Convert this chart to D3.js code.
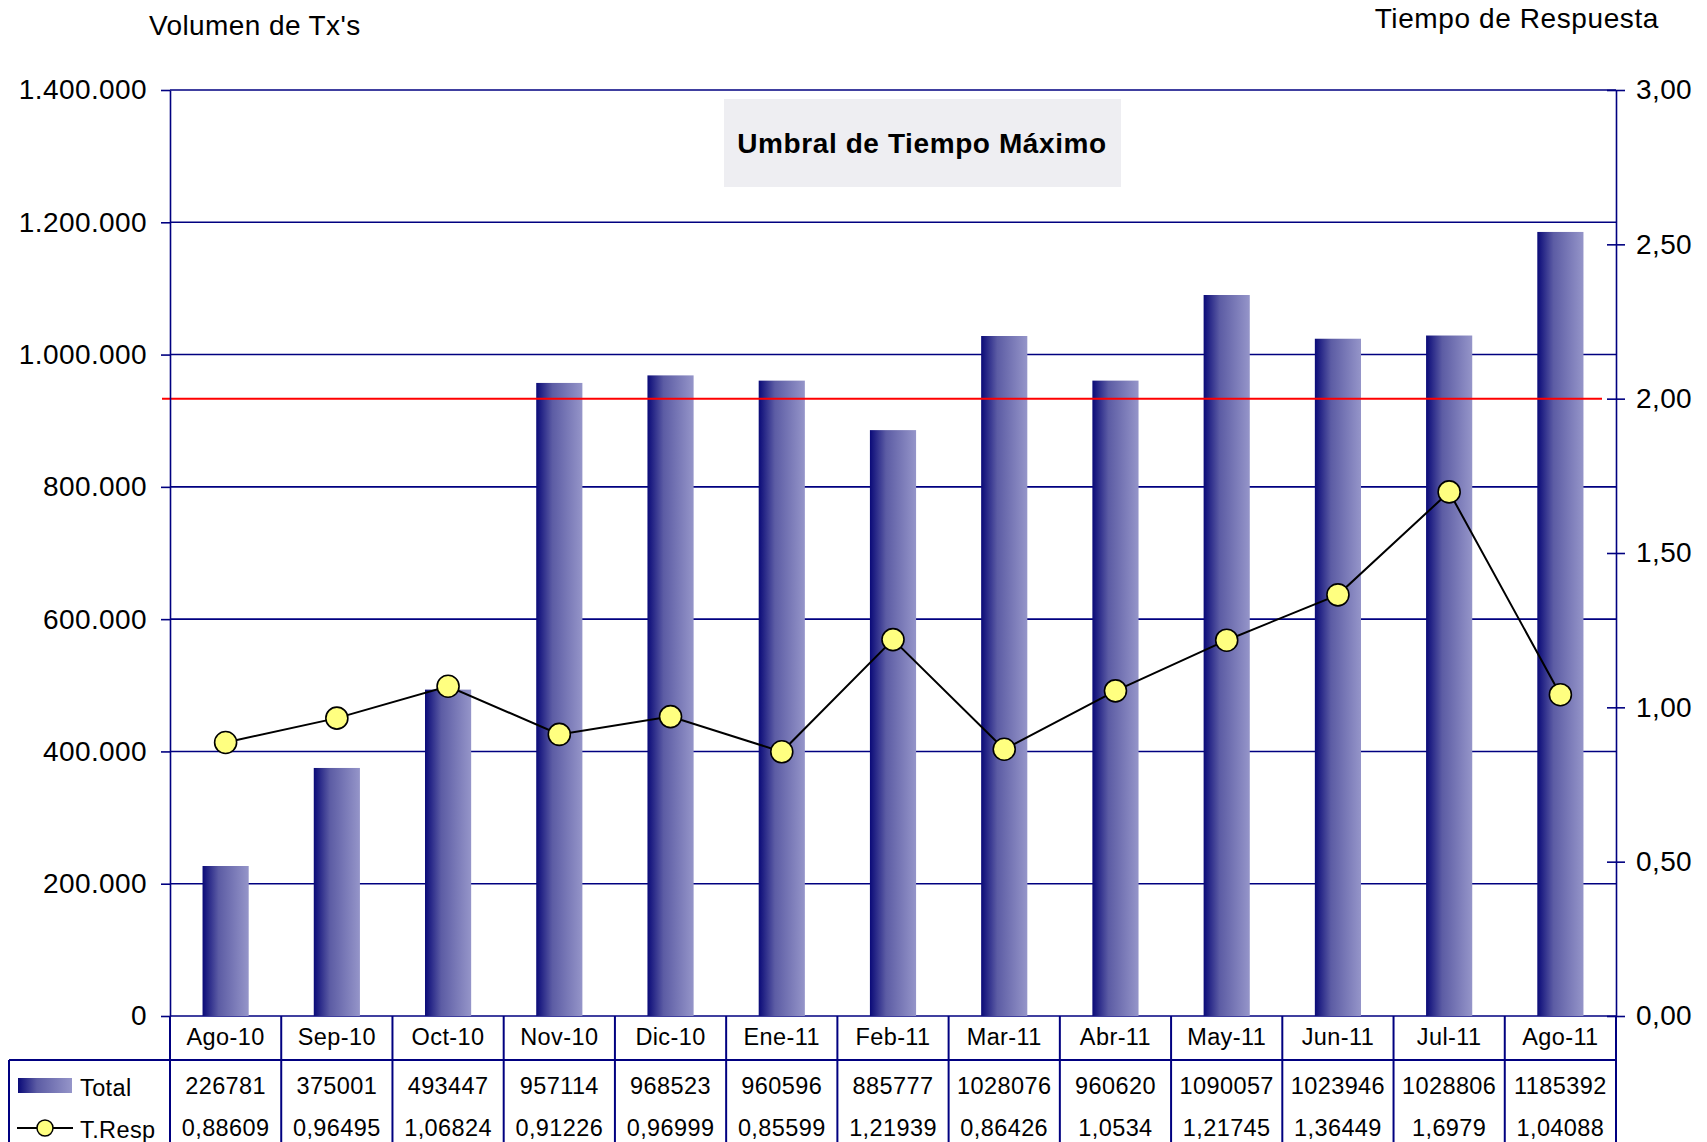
<!DOCTYPE html>
<html>
<head>
<meta charset="utf-8">
<script src="https://cdn.jsdelivr.net/npm/d3@7"></script>
<style>
  body { margin: 0; background: #fff; }
  text { font-family: "Liberation Sans", Arial, sans-serif; fill: #000; }
</style>
</head>
<body>
<div id="chart"></div>
<script>
const months = ["Ago-10","Sep-10","Oct-10","Nov-10","Dic-10","Ene-11","Feb-11","Mar-11","Abr-11","May-11","Jun-11","Jul-11","Ago-11"];
const total = [226781, 375001, 493447, 957114, 968523, 960596, 885777, 1028076, 960620, 1090057, 1023946, 1028806, 1185392];
const tresp = [0.88609, 0.96495, 1.06824, 0.91226, 0.96999, 0.85599, 1.21939, 0.86426, 1.0534, 1.21745, 1.36449, 1.6979, 1.04088];
const leftTicks = [0, 200000, 400000, 600000, 800000, 1000000, 1200000, 1400000];
const rightTicks = [0, 0.5, 1, 1.5, 2, 2.5, 3];
const threshold = 2.0;

const W = 1707, H = 1142;
const margin = {top: 90, left: 170, right: 91, bottom: 126};
const navy = "#000080";

const es = d3.formatLocale({decimal: ",", thousands: ".", grouping: [3], currency: ["", "€"]});

const svg = d3.select("#chart").append("svg")
  .attr("width", W).attr("height", H);

const defs = svg.append("defs");
const grad = defs.append("linearGradient").attr("id", "barGrad")
  .attr("x1", "0%").attr("x2", "100%").attr("y1", "0%").attr("y2", "0%");
grad.append("stop").attr("offset", "0%").attr("stop-color", "#0a0a78");
grad.append("stop").attr("offset", "35%").attr("stop-color", "#5c5ca4");
grad.append("stop").attr("offset", "100%").attr("stop-color", "#9595c9");

const x = d3.scaleBand()
  .domain(months)
  .range([margin.left, W - margin.right])
  .padding(0);

const yL = d3.scaleLinear().domain([0, 1400000]).range([H - margin.bottom, margin.top]);
const yR = d3.scaleLinear().domain([0, 3]).range([H - margin.bottom, margin.top]);

// gridlines
svg.append("g")
  .selectAll("line")
  .data(leftTicks)
  .join("line")
    .attr("x1", margin.left).attr("x2", W - margin.right)
    .attr("y1", d => yL(d)).attr("y2", d => yL(d))
    .attr("stroke", navy).attr("stroke-width", 1.6);

// title box
svg.append("rect")
  .attr("x", 724).attr("y", 99).attr("width", 397).attr("height", 88)
  .attr("fill", "#eeeef2");
svg.append("text")
  .attr("x", 922).attr("y", 153)
  .attr("text-anchor", "middle")
  .style("font-size", "28px").style("font-weight", "bold")
  .style("letter-spacing", "0.6px")
  .text("Umbral de Tiempo Máximo");

// bars
const barW = x.bandwidth() * 0.415;
svg.append("g")
  .selectAll("rect")
  .data(total)
  .join("rect")
    .attr("x", (d, i) => x(months[i]) + x.bandwidth() / 2 - barW / 2)
    .attr("y", d => yL(d))
    .attr("width", barW)
    .attr("height", d => yL(0) - yL(d))
    .attr("fill", "url(#barGrad)");

// threshold line
svg.append("line")
  .attr("x1", 162).attr("x2", 1602)
  .attr("y1", yR(threshold)).attr("y2", yR(threshold))
  .attr("stroke", "#ff0000").attr("stroke-width", 2);

// axes
const axL = svg.append("g")
  .attr("transform", `translate(${margin.left},0)`)
  .call(d3.axisLeft(yL).tickValues(leftTicks).tickFormat(es.format(",")).tickSize(9).tickPadding(14).tickSizeOuter(0));
axL.selectAll("text").style("font-size", "28px").style("letter-spacing", "0.4px");

const axR = svg.append("g")
  .attr("transform", `translate(${W - margin.right},0)`)
  .call(d3.axisRight(yR).tickValues(rightTicks).tickFormat(es.format(",.2f")).tickSize(9).tickPadding(11).tickSizeOuter(0));
axR.selectAll("text").style("font-size", "28px").style("letter-spacing", "0.4px");
axR.selectAll(".tick line").attr("x1", -9);

[axL, axR].forEach(a => {
  a.select(".domain").attr("stroke", navy).attr("stroke-width", 1.6);
  a.selectAll(".tick line").attr("stroke", navy).attr("stroke-width", 1.6);
  a.selectAll("text").style("fill", "#000");
});

// response-time line
const cx = (d, i) => x(months[i]) + x.bandwidth() / 2;
svg.append("path")
  .datum(tresp)
  .attr("fill", "none")
  .attr("stroke", "#000")
  .attr("stroke-width", 2)
  .attr("d", d3.line().x(cx).y(d => yR(d)));

svg.append("g")
  .selectAll("circle")
  .data(tresp)
  .join("circle")
    .attr("cx", cx)
    .attr("cy", d => yR(d))
    .attr("r", 11)
    .attr("fill", "#ffff80")
    .attr("stroke", "#000")
    .attr("stroke-width", 1.6);

// axis titles
svg.append("text").attr("x", 149).attr("y", 35)
  .style("font-size", "28px").style("letter-spacing", "0.4px").text("Volumen de Tx's");
svg.append("text").attr("x", 1659).attr("y", 28)
  .attr("text-anchor", "end")
  .style("font-size", "28px").style("letter-spacing", "0.6px").text("Tiempo de Respuesta");

// data table
const y0 = yL(0), rowTop = 1060;
const table = svg.append("g").style("font-size", "23.5px").style("letter-spacing", "0.4px");
table.append("line")
  .attr("x1", 9).attr("x2", W - margin.right)
  .attr("y1", rowTop).attr("y2", rowTop)
  .attr("stroke", navy).attr("stroke-width", 2);
table.append("line")
  .attr("x1", 9).attr("x2", 9)
  .attr("y1", rowTop).attr("y2", H)
  .attr("stroke", navy).attr("stroke-width", 2);
table.selectAll(".vline")
  .data(months.concat(["end"]))
  .join("line")
    .attr("class", "vline")
    .attr("x1", (d, i) => i < months.length ? x(d) : W - margin.right)
    .attr("x2", (d, i) => i < months.length ? x(d) : W - margin.right)
    .attr("y1", y0).attr("y2", H)
    .attr("stroke", navy).attr("stroke-width", 2);

table.selectAll(".cat")
  .data(months)
  .join("text")
    .attr("class", "cat")
    .attr("x", d => x(d) + x.bandwidth() / 2)
    .attr("y", 1045)
    .attr("text-anchor", "middle")
    .text(d => d);

table.selectAll(".tot")
  .data(total)
  .join("text")
    .attr("class", "tot")
    .attr("x", (d, i) => x(months[i]) + x.bandwidth() / 2)
    .attr("y", 1094)
    .attr("text-anchor", "middle")
    .text(d => String(d));

table.selectAll(".tr")
  .data(tresp)
  .join("text")
    .attr("class", "tr")
    .attr("x", (d, i) => x(months[i]) + x.bandwidth() / 2)
    .attr("y", 1136)
    .attr("text-anchor", "middle")
    .text(d => String(d).replace(".", ","));

// legend in the table
table.append("rect")
  .attr("x", 18).attr("y", 1078).attr("width", 54).attr("height", 15)
  .attr("fill", "url(#barGrad)");
table.append("text").attr("x", 80).attr("y", 1096)
  .text("Total");
table.append("line")
  .attr("x1", 17).attr("x2", 73).attr("y1", 1128).attr("y2", 1128)
  .attr("stroke", "#000").attr("stroke-width", 2);
table.append("circle")
  .attr("cx", 45).attr("cy", 1128).attr("r", 8)
  .attr("fill", "#ffff80").attr("stroke", "#000").attr("stroke-width", 1.5);
table.append("text").attr("x", 80).attr("y", 1138)
  .text("T.Resp");
</script>
</body>
</html>
